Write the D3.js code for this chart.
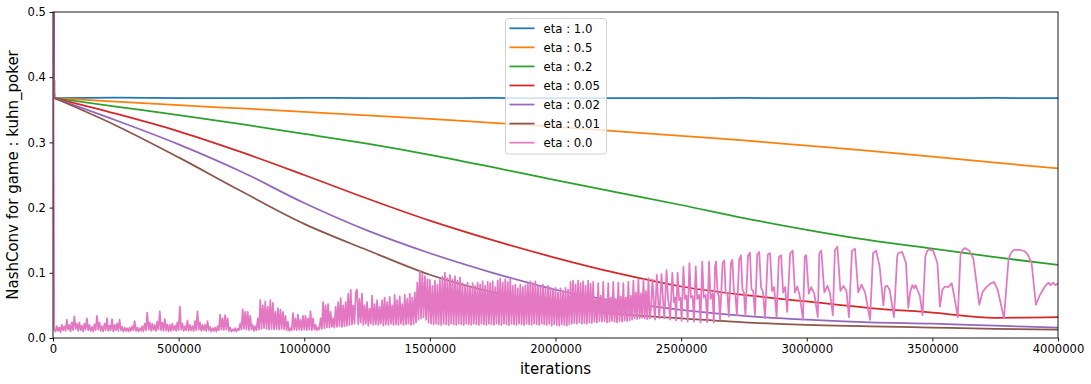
<!DOCTYPE html>
<html>
<head>
<meta charset="utf-8">
<script src="https://cdn.jsdelivr.net/npm/d3@7"></script>
<style>
  html, body { margin: 0; padding: 0; background: #ffffff; }
  text { font-family: "DejaVu Sans", sans-serif; }
</style>
</head>
<body>
<svg id="chart" width="1091" height="384"></svg>
<script>
// ---------------- data ----------------
const xTicks = [0, 500000, 1000000, 1500000, 2000000, 2500000, 3000000, 3500000, 4000000];
const yTicks = [0.0, 0.1, 0.2, 0.3, 0.4, 0.5];
const seriesNames = ["eta : 1.0", "eta : 0.5", "eta : 0.2", "eta : 0.05", "eta : 0.02", "eta : 0.01", "eta : 0.0"];
const seriesColors = ["#1f77b4", "#ff7f0e", "#2ca02c", "#d62728", "#9467bd", "#8c564b", "#e377c2"];

// iterations for the smooth series
const smoothIters = [0, 5000, 250000, 500000, 750000, 1000000, 1250000, 1500000, 1750000, 2000000,
  2250000, 2500000, 2750000, 3000000, 3250000, 3500000, 3750000, 4000000];
const eta10 = [0.75, 0.368, 0.3685, 0.368, 0.3678, 0.3682, 0.368, 0.3679, 0.3681, 0.368, 0.3678, 0.368, 0.3681, 0.3679, 0.368, 0.3679, 0.3681, 0.368];
const eta05 = [0.75, 0.368, 0.3625, 0.357, 0.352, 0.347, 0.3415, 0.336, 0.330, 0.324, 0.317, 0.310, 0.303, 0.295, 0.287, 0.278, 0.269, 0.260];
const eta02 = [0.75, 0.368, 0.355, 0.342, 0.328, 0.313, 0.298, 0.281, 0.262, 0.242, 0.223, 0.204, 0.184, 0.166, 0.150, 0.137, 0.124, 0.112];
const eta005 = [0.75, 0.368, 0.344, 0.317, 0.285, 0.250, 0.214, 0.180, 0.150, 0.123, 0.099, 0.079, 0.066, 0.056, 0.046, 0.039, 0.031, 0.032];
const eta002 = [0.75, 0.368, 0.334, 0.297, 0.255, 0.207, 0.165, 0.130, 0.100, 0.074, 0.056, 0.043, 0.034, 0.028, 0.024, 0.022, 0.019, 0.016];
const eta001 = [0.75, 0.368, 0.326, 0.277, 0.225, 0.175, 0.135, 0.097, 0.070, 0.050, 0.037, 0.030, 0.024, 0.020, 0.018, 0.016, 0.014, 0.013];

// eta : 0.0  — part A: every 5000 iterations from 0
const pinkA = [
  0.6, 0.012, 0.01, 0.018, 0.011, 0.016, 0.009, 0.02, 0.012, 0.018, 0.011, 0.028, 0.013, 0.02, 0.01, 0.024, 0.012, 0.033, 0.014, 0.022,
  0.011, 0.024, 0.012, 0.019, 0.01, 0.022, 0.013, 0.030, 0.012, 0.02, 0.011, 0.017, 0.01, 0.021, 0.012, 0.034, 0.013, 0.024, 0.011, 0.018,
  0.01, 0.022, 0.012, 0.030, 0.011, 0.019, 0.012, 0.029, 0.01, 0.02, 0.012, 0.022, 0.011, 0.028, 0.012, 0.017, 0.01, 0.016, 0.011, 0.015,
  0.01, 0.016, 0.011, 0.018, 0.012, 0.026, 0.011, 0.016, 0.01, 0.015, 0.011, 0.018, 0.01, 0.022, 0.012, 0.039, 0.013, 0.024, 0.011, 0.022,
  0.012, 0.02, 0.011, 0.025, 0.013, 0.041, 0.012, 0.024, 0.011, 0.029, 0.012, 0.021, 0.01, 0.02, 0.011, 0.022, 0.012, 0.019, 0.011, 0.024,
  0.012, 0.048, 0.013, 0.022, 0.011, 0.018, 0.012, 0.027, 0.011, 0.02, 0.012, 0.018, 0.011, 0.026, 0.012, 0.041, 0.013, 0.024, 0.011, 0.02,
  0.012, 0.02, 0.011, 0.026, 0.012, 0.017, 0.01, 0.015, 0.011, 0.016, 0.01, 0.018, 0.012, 0.036, 0.013, 0.03, 0.012, 0.035, 0.013, 0.030,
  0.011, 0.016, 0.01, 0.013, 0.011, 0.015, 0.01, 0.014, 0.012, 0.022, 0.013, 0.044, 0.014, 0.04, 0.013, 0.04, 0.012, 0.034, 0.013, 0.02,
  0.011, 0.018, 0.012, 0.03, 0.013, 0.058, 0.014, 0.05, 0.015, 0.056, 0.014, 0.048, 0.013, 0.058, 0.014, 0.054, 0.013, 0.04, 0.014, 0.046,
  0.013, 0.044, 0.014, 0.04, 0.013, 0.034, 0.012, 0.025, 0.011, 0.015, 0.012, 0.038, 0.013, 0.03, 0.012, 0.036, 0.013, 0.028, 0.012, 0.034,
  0.013, 0.034, 0.012, 0.03, 0.013, 0.041, 0.012, 0.03, 0.013, 0.02, 0.012, 0.016, 0.013, 0.03, 0.014, 0.055, 0.015, 0.05, 0.016, 0.052,
  0.016, 0.04, 0.017, 0.03, 0.016, 0.048, 0.017, 0.055, 0.018, 0.061, 0.017, 0.05, 0.018, 0.055, 0.019, 0.068, 0.02, 0.074, 0.021, 0.05
];
// part B: every 5000 iterations from 1200000
const pinkB = [
  0.022, 0.07, 0.074, 0.021, 0.06, 0.024, 0.068, 0.02, 0.05, 0.022, 0.055, 0.019, 0.045, 0.022, 0.065, 0.02, 0.052, 0.021, 0.058, 0.02, 0.048, 0.022, 0.058, 0.019, 0.062, 0.021, 0.055,
  0.02, 0.063, 0.022, 0.05, 0.02, 0.066, 0.021, 0.058, 0.02, 0.064, 0.022, 0.052, 0.02, 0.066, 0.021, 0.06, 0.022, 0.068, 0.02, 0.062, 0.021, 0.07,
  0.024, 0.085, 0.028, 0.102, 0.03, 0.098, 0.032, 0.095, 0.028, 0.09, 0.024, 0.089,
  0.022, 0.08, 0.021, 0.088, 0.022, 0.082, 0.021, 0.089, 0.02, 0.094, 0.022, 0.1, 0.021, 0.092, 0.02, 0.097, 0.022, 0.09, 0.021, 0.095,
  0.02, 0.088, 0.022, 0.093, 0.021, 0.084, 0.02, 0.08, 0.022, 0.085, 0.021, 0.078, 0.02, 0.084, 0.022, 0.08, 0.021, 0.085, 0.02, 0.082,
  0.022, 0.087, 0.021, 0.08, 0.02, 0.086, 0.022, 0.084, 0.021, 0.087, 0.02, 0.078, 0.022, 0.088, 0.021, 0.091, 0.02, 0.085, 0.022, 0.09,
  0.021, 0.086, 0.02, 0.091, 0.022, 0.08, 0.021, 0.082, 0.02, 0.076, 0.022, 0.082, 0.021, 0.078, 0.02, 0.081, 0.022, 0.083, 0.021, 0.087,
  0.02, 0.084, 0.022, 0.087, 0.021, 0.08, 0.02, 0.079, 0.022, 0.082, 0.021, 0.076, 0.02, 0.08, 0.022, 0.077, 0.019, 0.074, 0.021, 0.077,
  0.02, 0.07, 0.019, 0.076, 0.021, 0.072, 0.02, 0.077, 0.019, 0.074, 0.021, 0.086, 0.022, 0.088, 0.023, 0.082, 0.022, 0.088, 0.024, 0.084,
  0.022, 0.087, 0.023, 0.08, 0.022, 0.088, 0.024, 0.083, 0.023, 0.086, 0.025, 0.06, 0.024, 0.084, 0.026, 0.065, 0.025, 0.086, 0.026, 0.058,
  0.024, 0.084, 0.025, 0.062, 0.026, 0.086, 0.025, 0.06, 0.024, 0.085, 0.026, 0.064, 0.025, 0.084, 0.027, 0.062, 0.026, 0.086, 0.027, 0.065,
  0.028, 0.088, 0.03, 0.07, 0.029, 0.09, 0.03, 0.068, 0.031, 0.09, 0.03, 0.072, 0.029, 0.092, 0.03
];
// part C: [thousand iterations, value]
const pinkC = [
  [2380,0.045],[2386,0.09],[2392,0.05],[2396,0.028],[2403,0.097],[2409,0.055],[2413,0.03],[2422,0.098],[2428,0.058],[2433,0.03],
  [2442,0.104],[2448,0.06],[2452,0.05],[2456,0.028],[2465,0.1],[2471,0.055],[2476,0.062],[2480,0.027],[2486,0.1],[2492,0.058],
  [2497,0.062],[2502,0.026],[2509,0.109],[2515,0.06],[2521,0.065],[2526,0.025],[2533,0.115],[2539,0.062],[2546,0.064],[2551,0.025],
  [2558,0.11],[2564,0.06],[2572,0.066],[2577,0.024],[2584,0.117],[2590,0.062],[2598,0.066],[2604,0.024],[2611,0.117],[2617,0.06],
  [2625,0.068],[2630,0.024],
  [2635,0.11],[2639,0.117],[2645,0.07],[2650,0.065],[2655,0.028],
  [2665,0.115],[2672,0.119],[2677,0.07],[2684,0.068],[2690,0.033],
  [2698,0.115],[2704,0.12],[2710,0.072],[2716,0.066],[2722,0.035],
  [2731,0.12],[2738,0.127],[2744,0.075],[2750,0.07],[2756,0.034],
  [2766,0.126],[2774,0.131],[2780,0.075],[2787,0.072],[2794,0.035],
  [2803,0.128],[2811,0.132],[2818,0.078],[2826,0.07],[2834,0.03],
  [2845,0.128],[2854,0.13],[2862,0.072],[2870,0.078],[2880,0.032],
  [2889,0.124],[2898,0.127],[2906,0.07],[2914,0.078],[2922,0.04],
  [2934,0.13],[2944,0.134],[2953,0.07],[2962,0.079],[2972,0.065],[2985,0.028],
  [2992,0.125],[2998,0.127],[3008,0.068],[3018,0.078],[3030,0.068],[3044,0.032],
  [3050,0.13],[3058,0.134],[3070,0.07],[3082,0.08],[3092,0.07],[3104,0.035],
  [3112,0.135],[3122,0.14],[3134,0.072],[3146,0.08],[3158,0.072],[3168,0.032],
  [3180,0.134],[3192,0.137],[3205,0.07],[3218,0.082],[3232,0.07],[3252,0.028],
  [3264,0.13],[3276,0.134],[3290,0.11],[3305,0.05],[3312,0.079],[3320,0.08],[3330,0.074],[3347,0.032],
  [3360,0.125],[3364,0.13],[3380,0.132],[3395,0.115],[3404,0.046],[3412,0.071],[3420,0.081],[3427,0.076],[3433,0.081],[3440,0.074],[3450,0.065],[3461,0.035],
  [3472,0.125],[3480,0.134],[3487,0.136],[3503,0.134],[3520,0.115],[3530,0.048],[3540,0.074],[3550,0.079],[3563,0.078],[3577,0.084],[3587,0.064],[3601,0.032],
  [3612,0.128],[3620,0.135],[3630,0.138],[3647,0.134],[3663,0.122],[3687,0.051],[3700,0.071],[3715,0.078],[3730,0.083],[3745,0.086],[3760,0.074],[3785,0.030],
  [3803,0.12],[3812,0.13],[3825,0.135],[3850,0.135],[3868,0.133],[3880,0.128],[3895,0.115],[3912,0.051],[3928,0.066],[3948,0.079],[3962,0.085],[3970,0.081],[3980,0.085],[3990,0.081],[4000,0.084]
];

// ---------------- build ----------------
const smoothSeries = [eta10, eta05, eta02, eta005, eta002, eta001].map(vals =>
  vals.map((v, i) => [smoothIters[i], v]));
const pinkPoints = []
  .concat(pinkA.map((v, i) => [i * 5000, v]))
  .concat(pinkB.map((v, i) => [1200000 + i * 5000, v]))
  .concat(pinkC.map(d => [d[0] * 1000, d[1]]));

const svg = d3.select("#chart");
const margin = { left: 53, right: 1058, top: 12, bottom: 338 };
const x = d3.scaleLinear().domain([0, 4000000]).range([margin.left, margin.right]);
const y = d3.scaleLinear().domain([0, 0.5]).range([margin.bottom, margin.top]);
const LW = 1.75;

svg.append("rect").attr("x", 0).attr("y", 0).attr("width", 1091).attr("height", 384).attr("fill", "#fff");

svg.append("defs").append("clipPath").attr("id", "plotclip")
  .append("rect").attr("x", margin.left).attr("y", margin.top)
  .attr("width", margin.right - margin.left).attr("height", margin.bottom - margin.top);

const plot = svg.append("g").attr("clip-path", "url(#plotclip)");

const smoothLine = d3.line().x(d => x(d[0])).y(d => y(d[1])).curve(d3.curveMonotoneX);
const rawLine = d3.line().x(d => x(d[0])).y(d => y(d[1]));
smoothSeries.forEach((s, i) => {
  // initial jump (straight), then the smooth remainder
  plot.append("path").datum(s.slice(0, 2))
    .attr("fill", "none").attr("stroke", seriesColors[i]).attr("stroke-width", LW)
    .attr("d", rawLine);
  plot.append("path").datum(s.slice(1))
    .attr("fill", "none").attr("stroke", seriesColors[i]).attr("stroke-width", LW)
    .attr("stroke-linejoin", "round")
    .attr("d", smoothLine);
});
plot.append("path").datum(pinkPoints)
  .attr("fill", "none").attr("stroke", seriesColors[6]).attr("stroke-width", LW)
  .attr("stroke-linejoin", "round")
  .attr("d", rawLine);

// axes
const xAxis = d3.axisBottom(x).tickValues(xTicks).tickFormat(d3.format("d")).tickSizeInner(3.5).tickSizeOuter(0).tickPadding(3.5);
const yAxis = d3.axisLeft(y).tickValues(yTicks).tickFormat(d3.format(".1f")).tickSizeInner(3.5).tickSizeOuter(0).tickPadding(3.5);
const gx = svg.append("g").attr("transform", `translate(0,${margin.bottom})`).call(xAxis);
const gy = svg.append("g").attr("transform", `translate(${margin.left},0)`).call(yAxis);
[gx, gy].forEach(g => {
  g.select(".domain").remove();
  g.selectAll(".tick line").attr("stroke", "#000").attr("stroke-width", 0.9);
  g.selectAll(".tick text").attr("fill", "#000").style("font-size", "11.6px").style("font-family", "DejaVu Sans");
});

// frame
svg.append("rect").attr("x", margin.left).attr("y", margin.top)
  .attr("width", margin.right - margin.left).attr("height", margin.bottom - margin.top)
  .attr("fill", "none").attr("stroke", "#000").attr("stroke-width", 0.9);

// axis labels
svg.append("text").attr("x", (margin.left + margin.right) / 2).attr("y", 374)
  .attr("text-anchor", "middle").style("font-size", "15px").text("iterations");
svg.append("text").attr("transform", `translate(18,${(margin.top + margin.bottom) / 2}) rotate(-90)`)
  .attr("text-anchor", "middle").style("font-size", "15px").text("NashConv for game : kuhn_poker");

// legend
const lg = svg.append("g");
lg.append("rect").attr("x", 505.5).attr("y", 18.5).attr("width", 101).attr("height", 135.5)
  .attr("rx", 3).attr("fill", "#fff").attr("fill-opacity", 0.8).attr("stroke", "#cccccc").attr("stroke-width", 0.9);
seriesNames.forEach((name, i) => {
  const cy = 28.3 + i * 19.06;
  lg.append("line").attr("x1", 509.5).attr("x2", 534.5).attr("y1", cy).attr("y2", cy)
    .attr("stroke", seriesColors[i]).attr("stroke-width", LW);
  lg.append("text").attr("x", 543.5).attr("y", cy).attr("dy", "0.36em")
    .style("font-size", "11.7px").attr("fill", "#000").text(name);
});
</script>
</body>
</html>
